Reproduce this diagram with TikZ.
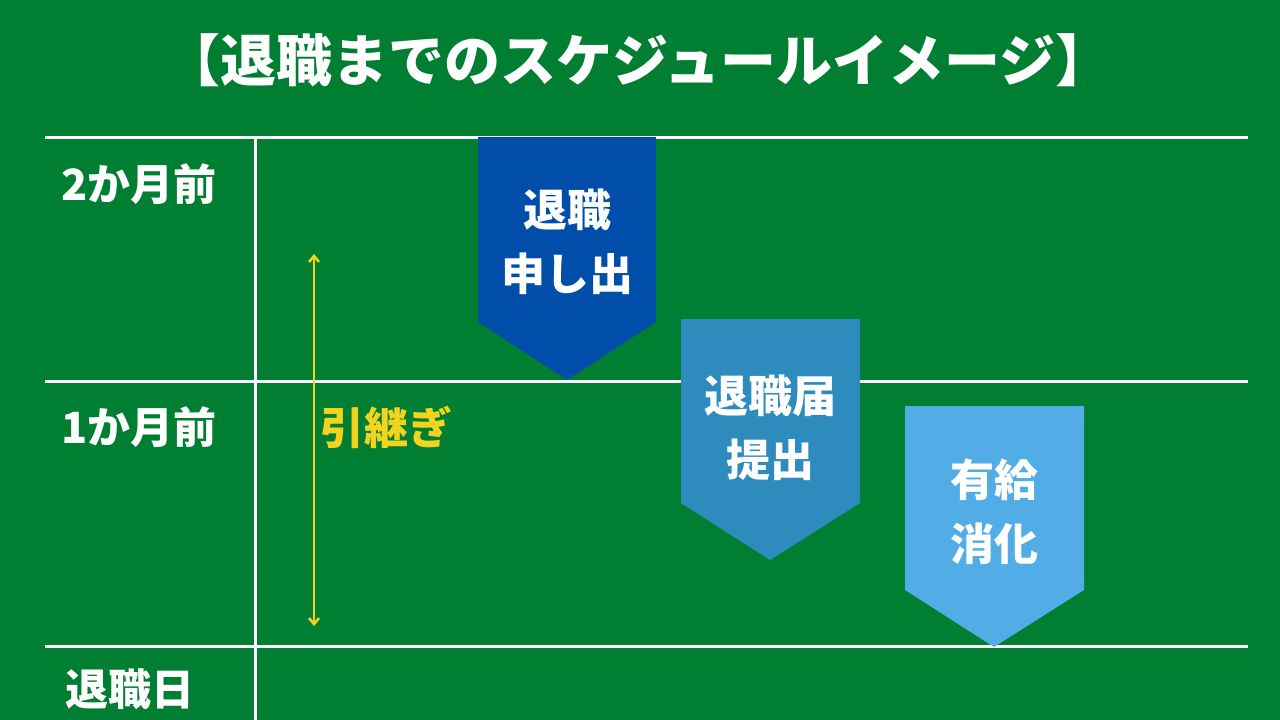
\documentclass[tikz,border=0pt]{standalone}
\usepackage{fontspec}
\setmainfont{Noto Sans CJK JP}
\usetikzlibrary{arrows.meta}
\definecolor{bg}{HTML}{007F33}
\definecolor{c1}{HTML}{004DAA}
\definecolor{c2}{HTML}{2E8BBE}
\definecolor{c3}{HTML}{52ADE6}
\definecolor{yl}{HTML}{F2D41E}
\tikzset{
  lbl/.style={text=white,font=\bfseries\fontsize{43}{50}\selectfont,inner sep=0},
  btxt/.style={text=white,font=\bfseries\fontsize{44}{64}\selectfont,align=center,inner sep=0},
  grid/.style={white,line width=3pt},
}
\begin{document}
\begin{tikzpicture}[x=1pt,y=-1pt]
\fill[bg] (0,0) rectangle (1280,720);
\useasboundingbox (0,0) rectangle (1280,720);
\node[text=white,font=\bfseries\fontsize{56}{64}\selectfont,inner sep=0] (title) at (638,60) {【退職までのスケジュールイメージ】};
\coordinate (l1a) at (45,137); \coordinate (l1b) at (1248,137);
\coordinate (l2a) at (45,381); \coordinate (l2b) at (1248,381);
\coordinate (l3a) at (45,646); \coordinate (l3b) at (1248,646);
\coordinate (va) at (255,137); \coordinate (vb) at (255,720);
\draw[grid] (l1a)--(l1b); \draw[grid] (l2a)--(l2b); \draw[grid] (l3a)--(l3b); \draw[grid] (va)--(vb);
\node[lbl] (m2) at (139,184) {2か月前};
\node[lbl] (m1) at (139,427) {1か月前};
\node[lbl] (d0) at (130,689) {退職日};
\fill[c1] (478,137) -- (656,137) -- (656,322) -- (567,380) -- (478,322) -- cycle;
\fill[c2] (681,319) -- (860,319) -- (860,503) -- (770,560) -- (681,503) -- cycle;
\fill[c3] (905,406) -- (1084,406) -- (1084,590) -- (994,647) -- (905,590) -- cycle;
\node[btxt] (b1) at (567,242) {退職\\申し出};
\node[btxt] (b2) at (770,428) {退職届\\提出};
\node[btxt] (b3) at (994,512) {有給\\消化};
\coordinate (ya) at (314,254); \coordinate (yb) at (314,626);
\draw[yl,line width=2.5pt,{Straight Barb[length=6pt,width=10pt]}-{Straight Barb[length=6pt,width=10pt]}] (ya)--(yb);
\node[text=yl,font=\bfseries\fontsize{44}{50}\selectfont,inner sep=0] (hk) at (386,427) {引継ぎ};
\end{tikzpicture}
\end{document}
